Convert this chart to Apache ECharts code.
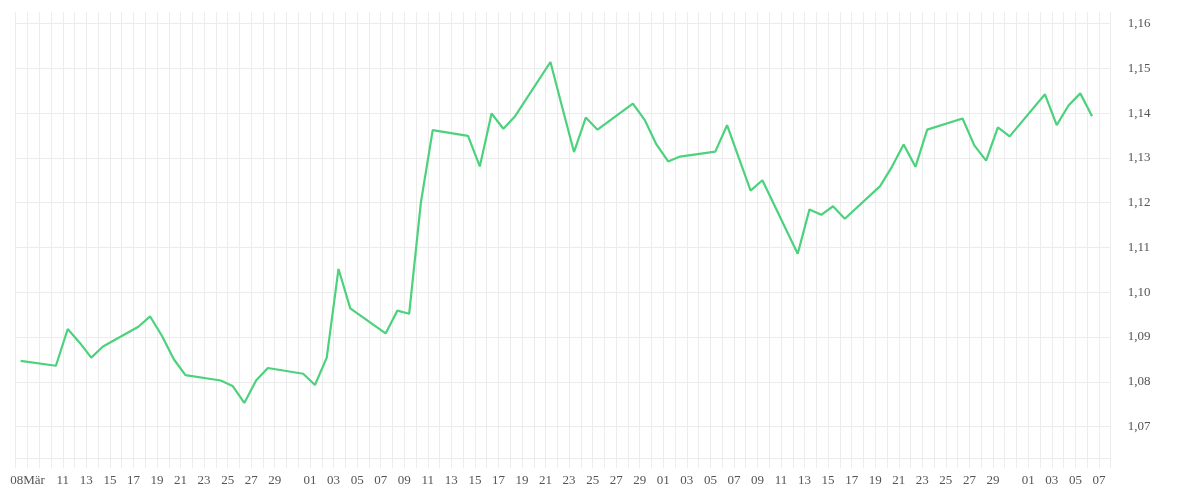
<!DOCTYPE html>
<html>
<head>
<meta charset="utf-8">
<script src="https://cdn.jsdelivr.net/npm/echarts@6/dist/echarts.min.js"></script>
<style>
html,body{margin:0;padding:0;background:#fff;}
#chart{width:1200px;height:500px;}
</style>
</head>
<body>
<div id="chart"></div>
<script>
// Trading days (sample time ~10:00 UTC)
const dates = [
  '2025-03-07 10:00','2025-03-10 10:00','2025-03-11 10:00','2025-03-12 10:00','2025-03-13 10:00','2025-03-14 10:00',
  '2025-03-17 10:00','2025-03-18 10:00','2025-03-19 10:00','2025-03-20 10:00','2025-03-21 10:00',
  '2025-03-24 10:00','2025-03-25 10:00','2025-03-26 10:00','2025-03-27 10:00','2025-03-28 10:00',
  '2025-03-31 10:00','2025-04-01 10:00','2025-04-02 10:00','2025-04-03 10:00','2025-04-04 10:00',
  '2025-04-07 10:00','2025-04-08 10:00','2025-04-09 10:00','2025-04-10 10:00','2025-04-11 10:00',
  '2025-04-14 10:00','2025-04-15 10:00','2025-04-16 10:00','2025-04-17 10:00','2025-04-18 10:00',
  '2025-04-21 10:00','2025-04-22 10:00','2025-04-23 10:00','2025-04-24 10:00','2025-04-25 10:00',
  '2025-04-28 10:00','2025-04-29 10:00','2025-04-30 10:00','2025-05-01 10:00','2025-05-02 10:00',
  '2025-05-05 10:00','2025-05-06 10:00','2025-05-07 10:00','2025-05-08 10:00','2025-05-09 10:00',
  '2025-05-12 10:00','2025-05-13 10:00','2025-05-14 10:00','2025-05-15 10:00','2025-05-16 10:00',
  '2025-05-19 10:00','2025-05-20 10:00','2025-05-21 10:00','2025-05-22 10:00','2025-05-23 10:00',
  '2025-05-26 10:00','2025-05-27 10:00','2025-05-28 10:00','2025-05-29 10:00','2025-05-30 10:00',
  '2025-06-02 10:00','2025-06-03 10:00','2025-06-04 10:00','2025-06-05 10:00','2025-06-06 10:00'
];
const rates = [
  1.0847, 1.0836, 1.0918, 1.0888, 1.0854, 1.0879,
  1.0923, 1.0946, 1.0903, 1.0851, 1.0815,
  1.0803, 1.0791, 1.0753, 1.0803, 1.0831,
  1.0818, 1.0793, 1.0854, 1.1052, 1.0964,
  1.0908, 1.0959, 1.0952, 1.1201, 1.1362,
  1.1349, 1.1281, 1.1399, 1.1365, 1.1393,
  1.1514, 1.1413, 1.1313, 1.1390, 1.1363,
  1.1421, 1.1385, 1.1330, 1.1292, 1.1303,
  1.1314, 1.1373, 1.1300, 1.1227, 1.1250,
  1.1086, 1.1185, 1.1173, 1.1192, 1.1164,
  1.1237, 1.1280, 1.1330, 1.1280, 1.1363,
  1.1388, 1.1328, 1.1294, 1.1368, 1.1348,
  1.1442, 1.1373, 1.1417, 1.1444, 1.1393
];
const xMin = '2025-03-07 00:00';
const xMax = '2025-06-08 00:00';
const xLabelDates = [
  '2025-03-08','2025-03-11','2025-03-13','2025-03-15','2025-03-17','2025-03-19','2025-03-21','2025-03-23','2025-03-25','2025-03-27','2025-03-29',
  '2025-04-01','2025-04-03','2025-04-05','2025-04-07','2025-04-09','2025-04-11','2025-04-13','2025-04-15','2025-04-17','2025-04-19','2025-04-21','2025-04-23','2025-04-25','2025-04-27','2025-04-29',
  '2025-05-01','2025-05-03','2025-05-05','2025-05-07','2025-05-09','2025-05-11','2025-05-13','2025-05-15','2025-05-17','2025-05-19','2025-05-21','2025-05-23','2025-05-25','2025-05-27','2025-05-29',
  '2025-06-01','2025-06-03','2025-06-05','2025-06-07'
];
const firstLabelMonth = 'Mär';
const yTicks = [1.07, 1.08, 1.09, 1.10, 1.11, 1.12, 1.13, 1.14, 1.15, 1.16];
const yMin = 1.063;
const yMax = 1.1625;

function parse(s) {
  const m = s.match(/(\d+)-(\d+)-(\d+)(?:\s+(\d+):(\d+))?/);
  return Date.UTC(+m[1], +m[2] - 1, +m[3], +(m[4] || 0), +(m[5] || 0));
}
const DAY = 86400000;
const labelIndex = {};
xLabelDates.forEach((s, i) => { labelIndex[Math.round(parse(s) / DAY)] = i; });

const chart = echarts.init(document.getElementById('chart'), null, {renderer: 'canvas'});
const gridColor = '#ececec';
const labelFont = {color: '#555', fontFamily: 'Liberation Serif', fontSize: 13};

chart.setOption({
  backgroundColor: '#fff',
  animation: false,
  grid: {left: 15.7, right: 89.3, top: 12.3, bottom: 42, containLabel: false, outerBoundsMode: 'none'},
  xAxis: {
    type: 'value',
    min: parse(xMin),
    max: parse(xMax),
    interval: DAY,
    axisLine: {show: true, lineStyle: {color: gridColor, width: 1}},
    axisTick: {show: true, length: 10, lineStyle: {color: gridColor, width: 1}},
    splitLine: {show: true, lineStyle: {color: gridColor, width: 1}},
    axisLabel: Object.assign({
      margin: 16,
      hideOverlap: false,
      formatter: function (v) {
        const idx = labelIndex[Math.round(v / DAY)];
        if (idx === undefined) return '';
        const dd = String(new Date(v).getUTCDate()).padStart(2, '0');
        return idx === 0 ? dd + firstLabelMonth : dd;
      }
    }, labelFont)
  },
  yAxis: {
    type: 'value',
    position: 'right',
    min: yMin,
    max: yMax,
    axisLine: {show: false},
    axisTick: {show: false, customValues: yTicks},
    splitLine: {show: true, lineStyle: {color: gridColor, width: 1}},
    axisLabel: Object.assign({
      customValues: yTicks,
      margin: 17,
      formatter: v => v.toFixed(2).replace('.', ',')
    }, labelFont)
  },
  series: [{
    type: 'line',
    data: dates.map((d, i) => [parse(d), rates[i]]),
    showSymbol: false,
    symbol: 'none',
    lineStyle: {color: '#4cd27c', width: 2.2},
    itemStyle: {color: '#4cd27c'}
  }]
});
</script>
</body>
</html>
